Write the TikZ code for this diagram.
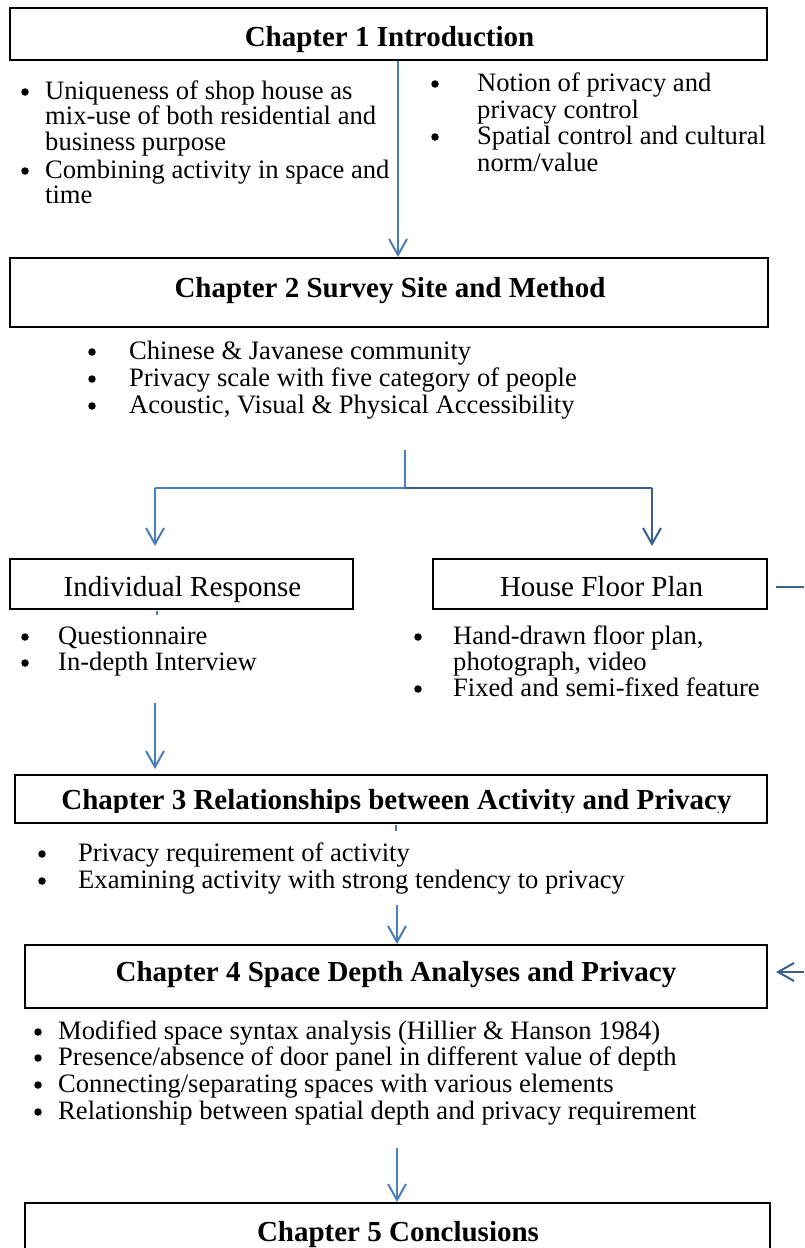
\documentclass[tikz,border=0pt]{standalone}
\usepackage{fontspec}
\setmainfont{Liberation Serif}
\usetikzlibrary{arrows.meta,calc}
\definecolor{lb}{HTML}{4A7EBB}
\definecolor{db}{HTML}{3B5F8F}
\tikzset{
 box/.style={draw=black,line width=2pt,inner sep=0pt},
 ttl/.style={font=\fontsize{29}{30}\selectfont\bfseries,anchor=mid,inner sep=0pt,yshift=-7pt},
 sub/.style={font=\fontsize{29}{30}\selectfont,anchor=mid,inner sep=0pt,yshift=-7pt},
 txt/.style={font=\fontsize{26.6}{27}\selectfont,anchor=mid west,inner sep=0pt,yshift=-6pt},
 bul/.style={circle,fill=black,inner sep=0pt,minimum size=7.5pt,yshift=-1pt},
 arr/.style={draw=lb,line width=2pt,-{Straight Barb[length=16pt,width=18pt,line width=2pt]}},
 arrd/.style={draw=db,line width=2pt,-{Straight Barb[length=16pt,width=18pt,line width=2pt]}},
 ln/.style={draw=lb,line width=2pt},
 lnd/.style={draw=db,line width=2pt},
}
\begin{document}
\begin{tikzpicture}[x=1pt,y=-1pt]
\useasboundingbox (0,0) rectangle (804,1248);
\clip (0,0) rectangle (804,1248);
% boxes
\node[box,minimum width=757pt,minimum height=52pt] (ch1) at (388.5,34) {};
\node[box,minimum width=758pt,minimum height=69pt] (ch2) at (389,292.5) {};
\node[box,minimum width=343pt,minimum height=50pt] (ir) at (181.5,584) {};
\node[box,minimum width=334pt,minimum height=50pt] (hfp) at (600,584) {};
\node[box,minimum width=752pt,minimum height=48pt] (ch3) at (391,799) {};
\node[box,minimum width=742pt,minimum height=63pt] (ch4) at (396,976.5) {};
\node[box,minimum width=745pt,minimum height=87pt] (ch5) at (397.5,1246.5) {};
% titles
\node[ttl] (ch1t) at (389.5,37) {Chapter 1 Introduction};
\node[ttl] (ch2t) at (390,288) {Chapter 2 Survey Site and Method};
\node[sub] (irt) at (182.5,587) {Individual Response};
\node[sub] (hfpt) at (601.5,587) {House Floor Plan};
\begin{scope}
\clip (15,775) rectangle (767,812);
\node[ttl] (ch3t) at (396.5,800) {Chapter 3 Relationships between Activity and Privacy};
\end{scope}
\node[ttl] (ch4t) at (396,972) {Chapter 4 Space Depth Analyses and Privacy};
\node[ttl] (ch5t) at (398,1232) {Chapter 5 Conclusions};
% chapter 1 bullets
\node[bul] (b1a) at (25,91) {};
\node[txt] (t1a) at (45,91) {Uniqueness of shop house as};
\node[txt] (t1b) at (45,116) {mix-use of both residential and};
\node[txt] (t1c) at (45,142) {business purpose};
\node[bul] (b1b) at (25,170) {};
\node[txt] (t1d) at (45,170) {Combining activity in space and};
\node[txt] (t1e) at (45,195) {time};
\node[bul] (b1c) at (435,83) {};
\node[txt] (t1f) at (477,83) {Notion of privacy and};
\node[txt] (t1g) at (477,110) {privacy control};
\node[bul] (b1d) at (435,136) {};
\node[txt] (t1h) at (477,136) {Spatial control and cultural};
\node[txt] (t1i) at (477,163) {norm/value};
% chapter 2 bullets
\node[bul] (b2a) at (92,351) {};
\node[txt] (t2a) at (129,351) {Chinese \& Javanese community};
\node[bul] (b2b) at (92,378) {};
\node[txt] (t2b) at (129,378) {Privacy scale with five category of people};
\node[bul] (b2c) at (92,405) {};
\node[txt] (t2c) at (129,405) {Acoustic, Visual \& Physical Accessibility};
% individual response bullets
\node[bul] (bia) at (25,636) {};
\node[txt] (tia) at (58,636) {Questionnaire};
\node[bul] (bib) at (25,662) {};
\node[txt] (tib) at (58,662) {In-depth Interview};
% house floor plan bullets
\node[bul] (bha) at (418,636) {};
\node[txt] (tha) at (453,636) {Hand-drawn floor plan,};
\node[txt] (thb) at (453,662) {photograph, video};
\node[bul] (bhb) at (418,688) {};
\node[txt] (thc) at (453,688) {Fixed and semi-fixed feature};
% chapter 3 bullets
\node[bul] (b3a) at (42,853) {};
\node[txt] (t3a) at (78,853) {Privacy requirement of activity};
\node[bul] (b3b) at (42,880) {};
\node[txt] (t3b) at (78,880) {Examining activity with strong tendency to privacy};
% chapter 4 bullets
\node[bul] (b4a) at (38,1031) {};
\node[txt] (t4a) at (58,1031) {Modified space syntax analysis (Hillier \& Hanson 1984)};
\node[bul] (b4b) at (38,1057) {};
\node[txt] (t4b) at (58,1057) {Presence/absence of door panel in different value of depth};
\node[bul] (b4c) at (38,1084) {};
\node[txt] (t4c) at (58,1084) {Connecting/separating spaces with various elements};
\node[bul] (b4d) at (38,1111) {};
\node[txt] (t4d) at (58,1111) {Relationship between spatial depth and privacy requirement};
% coordinates
\coordinate (x398) at (398,0);
\coordinate (x155) at (155,0);
\coordinate (x652) at (652,0);
\coordinate (x397) at (397,0);
\coordinate (x157) at (157,0);
\coordinate (x396) at (396,0);
\coordinate (br0) at (405,450);
\coordinate (brj) at (405,488);
\coordinate (brl) at (155,488);
\coordinate (brr) at (652,488);
\coordinate (irs) at (155,703);
\coordinate (c3s) at (397,905);
\coordinate (c4s) at (397,1148);
\coordinate (rin) at (804,972);
\coordinate (rout) at (804,587);
% connectors
\draw[arr] (ch1.south -| x398) -- (ch2.north -| x398);
\draw[ln] (br0) -- (brj);
\draw[ln] (brl) -- (brj);
\draw[lnd] (brj) -- (brr);
\draw[arr] (brl) -- ([yshift=12pt]ir.north -| x155);
\draw[arrd] (brr) -- ([yshift=12pt]hfp.north -| x652);
\draw[lnd] ([xshift=8pt]rout -| hfp.east) -- (rout);
\draw[ln,line width=1.5pt] ([yshift=-1pt]ir.south -| x157) -- ([yshift=-5pt]ir.south -| x157);
\draw[arr] (irs) -- ([yshift=5pt]ch3.north -| x155);
\draw[ln,line width=1.5pt] ([yshift=-1pt]ch3.south -| x396) -- ([yshift=-7pt]ch3.south -| x396);
\draw[arr] (c3s) -- (ch4.north -| x397);
\draw[arrd] (rin) -- ([xshift=8pt]rin -| ch4.east);
\draw[arr] (c4s) -- (ch5.north -| x397);
\end{tikzpicture}
\end{document}
